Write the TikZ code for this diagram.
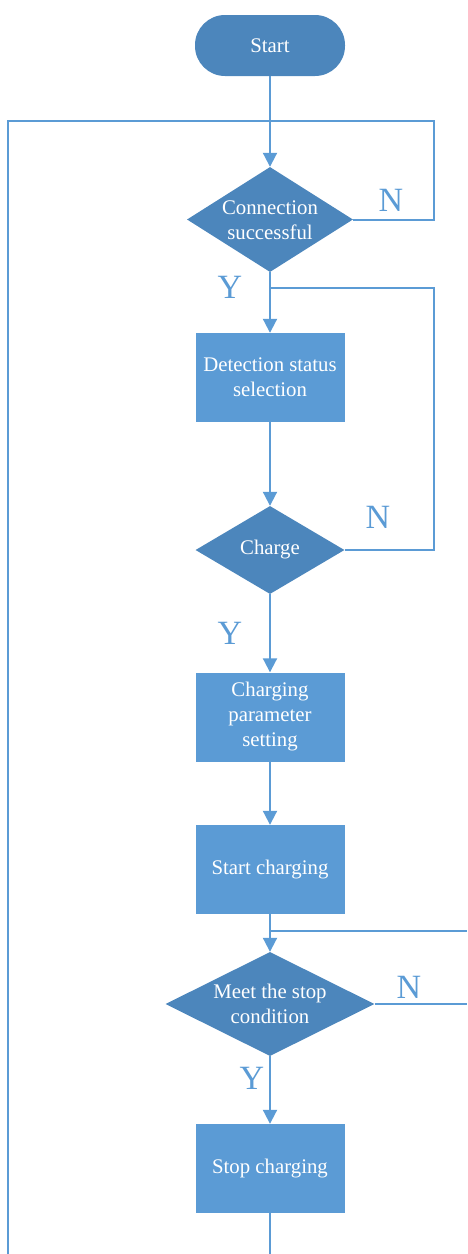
\documentclass[tikz,border=0pt]{standalone}
\usepackage{fontspec}
\setmainfont{Liberation Serif}
\usetikzlibrary{shapes.geometric,arrows.meta}
\definecolor{boxblue}{RGB}{91,155,213}
\definecolor{darkblue}{RGB}{76,134,188}
\definecolor{lineblue}{RGB}{91,155,213}
\begin{document}
\begin{tikzpicture}[x=1pt,y=-1pt,
  proc/.style={rectangle,fill=boxblue,draw=none,minimum width=149pt,minimum height=89pt,inner sep=0pt},
  term/.style={rectangle,rounded corners=30pt,fill=darkblue,draw=none,minimum width=150pt,minimum height=61pt,inner sep=0pt},
  dec/.style={diamond,fill=darkblue,draw=none,inner sep=0pt},
  txt/.style={text=white,align=center,font=\fontsize{20.8}{25}\selectfont,inner sep=0pt},
  yn/.style={text=lineblue,font=\fontsize{34}{34}\selectfont,inner sep=0pt},
  conn/.style={draw=lineblue,line width=2pt},
  arr/.style={conn,-{Triangle[length=14pt,width=14pt]}}]
\useasboundingbox (0,0) rectangle (467,1254);
% nodes
\node[term] (start) at (270,45.5) {};
\node[txt] (starttxt) at (start) {Start};
\node[dec,minimum width=166pt,minimum height=105pt] (d1) at (270,219.5) {};
\node[txt] (d1txt) at (270,220) {Connection\\successful};
\node[proc] (b1) at (270,377.5) {};
\node[txt] (b1txt) at (270,377) {Detection status\\selection};
\node[dec,minimum width=149pt,minimum height=88pt] (d2) at (270,550) {};
\node[txt] (d2txt) at (270,550) {Charge};
\node[proc] (b2) at (270,717) {};
\node[txt] (b2txt) at (270,717) {Charging\\parameter\\setting};
\node[proc] (b3) at (270,869.5) {};
\node[txt] (b3txt) at (270,869.5) {Start charging};
\node[dec,minimum width=209pt,minimum height=104pt] (d3) at (270,1004) {};
\node[txt] (d3txt) at (270,1004) {Meet the stop\\condition};
\node[proc] (b4) at (270,1168.5) {};
\node[txt] (b4txt) at (270,1168.5) {Stop charging};
% labels
\node[yn] (n1) at (391,200) {N};
\node[yn] (y1) at (230,287) {Y};
\node[yn] (n2) at (378,517) {N};
\node[yn] (y2) at (230,633) {Y};
\node[yn] (n3) at (409,987) {N};
\node[yn] (y3) at (252,1078) {Y};
% coordinates
\coordinate (c1) at (434,219.5);
\coordinate (c2) at (434,121);
\coordinate (c3) at (8,121);
\coordinate (c4) at (8,1254);
\coordinate (j1) at (270,288);
\coordinate (c5) at (434,550);
\coordinate (c6) at (434,288);
\coordinate (j2) at (270,931);
\coordinate (c7) at (467,931);
\coordinate (c8) at (467,1004);
\coordinate (c9) at (270,1254);
% connectors
\draw[arr] (start) -- (d1);
\draw[conn] (d1.east) -- (c1) -- (c2) -- (c3) -- (c4);
\draw[arr] (d1) -- (b1);
\draw[conn] (d2.east) -- (c5) -- (c6) -- (j1);
\draw[arr] (b1) -- (d2);
\draw[arr] (d2) -- (b2);
\draw[arr] (b2) -- (b3);
\draw[arr] (b3) -- (d3);
\draw[conn] (j2) -- (c7);
\draw[conn] (d3.east) -- (c8);
\draw[arr] (d3) -- (b4);
\draw[conn] (b4) -- (c9);
\end{tikzpicture}
\end{document}
